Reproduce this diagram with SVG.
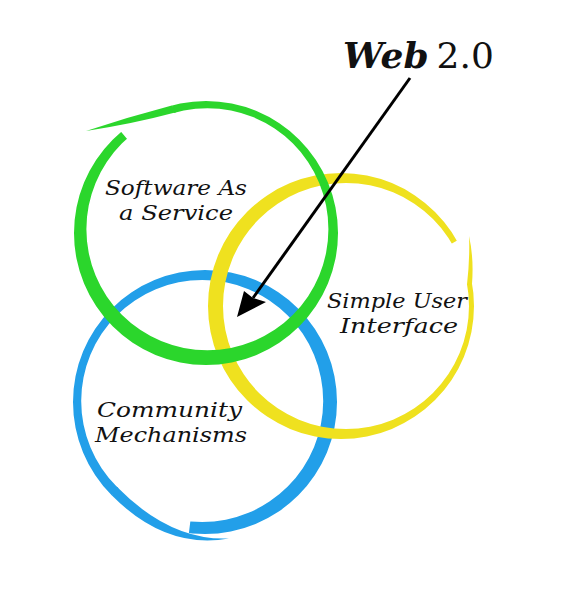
<svg xmlns="http://www.w3.org/2000/svg" width="582" height="600" viewBox="0 0 582 600">
<style>
.lbl{font-family:"DejaVu Serif","Liberation Serif",serif;font-style:italic;font-size:21px;fill:#111}
.blue{fill:#229fe9}
.yellow{fill:#efe11f}
.green{fill:#2bd62c}
</style>
<defs>
<clipPath id="cb"><polygon points="205,402 -7.1,614.1 -54.8,252 355,142.2 464.8,552 168.4,699.8"/></clipPath>
<clipPath id="cy"><polygon points="341,306 636.4,253.9 393.1,601.4 45.6,358.1 288.9,10.6 602.4,158.7"/></clipPath>
<clipPath id="cg"><polygon points="206,233 128.4,-56.8 495.8,155.4 283.6,522.8 -83.8,310.6 13.2,3.2"/></clipPath>
</defs>
<rect width="582" height="600" fill="#fff"/>
<g id="community">
<path class="blue" fill-rule="evenodd" clip-path="url(#cb)" d="M73,402 a132,132 0 1,0 264,0 a132,132 0 1,0 -264,0 Z M81.2,401 a121,121 0 1,0 242,0 a121,121 0 1,0 -242,0 Z"/>
<path class="blue" d="M111.7,495.3 Q166,550 229,538.5 Q170,541 116.6,486.6 Z"/>
<text class="lbl" x="97" y="417" textLength="145" lengthAdjust="spacingAndGlyphs">Community</text>
<text class="lbl" x="95" y="442" textLength="152" lengthAdjust="spacingAndGlyphs">Mechanisms</text>
</g>
<g id="interface">
<path class="yellow" fill-rule="evenodd" clip-path="url(#cy)" d="M208,306 a133,133 0 1,0 266,0 a133,133 0 1,0 -266,0 Z M223,306 a123,123 0 1,0 246,0 a123,123 0 1,0 -246,0 Z"/>
<path class="yellow" d="M469,236 Q474,258 472,284 L467,284.6 Q470,258 469,236 Z"/>
<text class="lbl" x="327" y="308" textLength="140" lengthAdjust="spacingAndGlyphs">Simple User</text>
<text class="lbl" x="340" y="333" textLength="118" lengthAdjust="spacingAndGlyphs">Interface</text>
</g>
<g id="saas">
<path class="green" fill-rule="evenodd" clip-path="url(#cg)" d="M74,233 a132,132 0 1,0 264,0 a132,132 0 1,0 -264,0 Z M86.4,229.2 a121,121 0 1,0 242,0 a121,121 0 1,0 -242,0 Z"/>
<path class="green" d="M86,131 Q128,117 171.8,105.5 L176.1,112.3 Q132.6,123.9 86,131 Z"/>
<text class="lbl" x="105" y="195" textLength="142" lengthAdjust="spacingAndGlyphs">Software As</text>
<text class="lbl" x="119" y="220" textLength="114" lengthAdjust="spacingAndGlyphs">a Service</text>
</g>
<g id="web20">
<text x="343" y="68" font-family="DejaVu Serif, Liberation Serif, serif" font-size="36" fill="#111"><tspan font-style="italic" font-weight="bold">Web</tspan><tspan dx="8">2.0</tspan></text>
</g>
<g id="connectors">
<line x1="410" y1="78" x2="253" y2="298" stroke="#000" stroke-width="3"/>
<polygon points="237,317 244,291 253,298 266,302" fill="#000"/>
</g>
</svg>
